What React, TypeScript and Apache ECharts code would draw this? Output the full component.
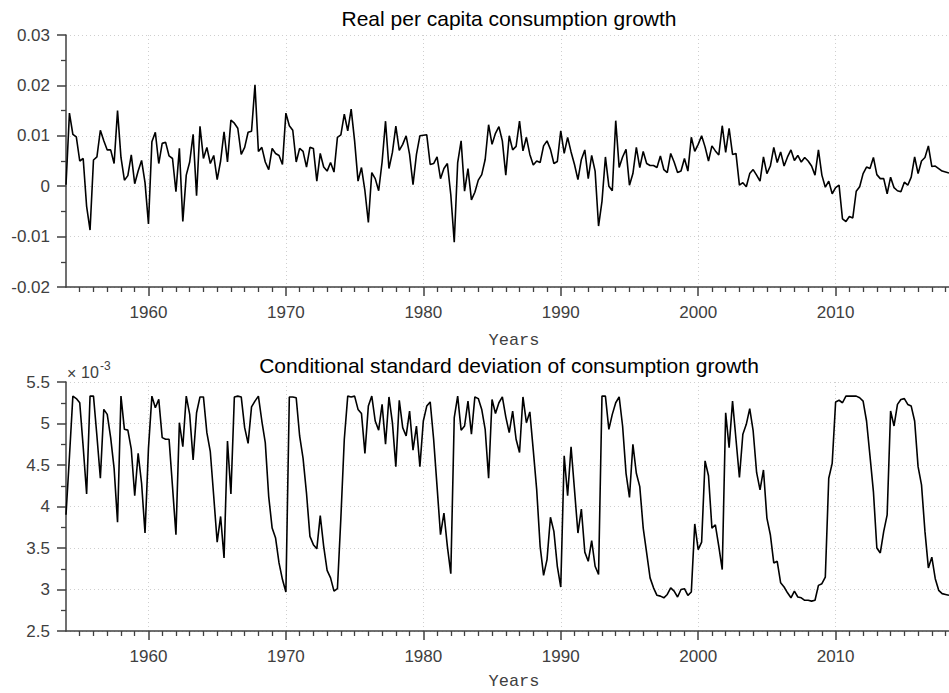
import React, { useEffect, useRef } from "react";
import * as echarts from "echarts";

// Quarterly observations starting 1954 Q1
const startYear = 1954;
const xMin = 1954;
const xMax = 2018.25;
const decadeTicks = [1960, 1970, 1980, 1990, 2000, 2010];

// Real per capita consumption growth
const growth = [
  0.0003, 0.0145, 0.0103, 0.0098, 0.0050, 0.0055, -0.0040, -0.0087, 0.0052, 0.0058,
  0.0111, 0.0090, 0.0072, 0.0072, 0.0045, 0.0150, 0.0057, 0.0012, 0.0021, 0.0062,
  0.0005, 0.0030, 0.0051, 0.0007, -0.0075, 0.0088, 0.0107, 0.0045, 0.0085, 0.0087,
  0.0060, 0.0055, -0.0011, 0.0075, -0.0070, 0.0022, 0.0048, 0.0103, -0.0019, 0.0119,
  0.0055, 0.0077, 0.0045, 0.0061, 0.0013, 0.0050, 0.0108, 0.0048, 0.0131, 0.0125,
  0.0115, 0.0063, 0.0077, 0.0107, 0.0109, 0.0201, 0.0069, 0.0077, 0.0048, 0.0033,
  0.0075, 0.0065, 0.0061, 0.0043, 0.0145, 0.0120, 0.0111, 0.0048, 0.0075, 0.0069,
  0.0038, 0.0077, 0.0075, 0.0010, 0.0065, 0.0038, 0.0030, 0.0047, 0.0028, 0.0097,
  0.0102, 0.0143, 0.0110, 0.0153, 0.0090, 0.0010, 0.0037, -0.0009, -0.0072, 0.0027,
  0.0015, -0.0009, 0.0048, 0.0129, 0.0035, 0.0067, 0.0119, 0.0071, 0.0083, 0.0100,
  0.0063, 0.0003, 0.0063, 0.0100, 0.0101, 0.0102, 0.0043, 0.0045, 0.0058, 0.0015,
  0.0035, 0.0045, -0.0017, -0.0111, 0.0047, 0.0090, -0.0010, 0.0035, -0.0027, -0.0012,
  0.0012, 0.0023, 0.0053, 0.0122, 0.0083, 0.0105, 0.0118, 0.0090, 0.0022, 0.0100,
  0.0072, 0.0079, 0.0129, 0.0070, 0.0097, 0.0063, 0.0042, 0.0050, 0.0047, 0.0080,
  0.0090, 0.0073, 0.0045, 0.0049, 0.0110, 0.0065, 0.0097, 0.0068, 0.0043, 0.0013,
  0.0053, 0.0072, 0.0015, 0.0061, 0.0030, -0.0079, -0.0030, 0.0058, 0.0000, -0.0009,
  0.0130, 0.0037, 0.0058, 0.0073, 0.0002, 0.0025, 0.0077, 0.0037, 0.0069, 0.0045,
  0.0041, 0.0041, 0.0037, 0.0060, 0.0033, 0.0027, 0.0065, 0.0048, 0.0027, 0.0030,
  0.0055, 0.0030, 0.0097, 0.0069, 0.0083, 0.0100, 0.0078, 0.0050, 0.0080, 0.0070,
  0.0062, 0.0120, 0.0067, 0.0115, 0.0063, 0.0065, 0.0002, 0.0007, -0.0001, 0.0025,
  0.0033, 0.0022, 0.0010, 0.0058, 0.0025, 0.0040, 0.0077, 0.0047, 0.0068, 0.0040,
  0.0058, 0.0072, 0.0051, 0.0061, 0.0048, 0.0057, 0.0050, 0.0040, 0.0022, 0.0072,
  0.0022, -0.0002, 0.0010, -0.0015, -0.0003, 0.0002, -0.0065, -0.0070, -0.0060, -0.0063,
  -0.0010, -0.0001, 0.0025, 0.0038, 0.0035, 0.0057, 0.0023, 0.0015, 0.0015, -0.0015,
  0.0018, -0.0003, -0.0009, -0.0011, 0.0008, 0.0002, 0.0018, 0.0058, 0.0025, 0.0050,
  0.0057, 0.0080, 0.0039, 0.0040, 0.0035, 0.0030, 0.0028, 0.0026,
];

// Conditional standard deviation of consumption growth (in units of 10^-3)
const condSd = [
  3.90, 4.60, 5.33, 5.30, 5.25, 4.72, 4.15, 5.33, 5.33, 4.85,
  4.34, 5.17, 5.11, 4.83, 4.46, 3.81, 5.33, 4.93, 4.92, 4.69,
  4.13, 4.64, 4.28, 3.68, 4.70, 5.33, 5.19, 5.29, 4.83, 4.81,
  4.81, 4.24, 3.66, 5.01, 4.72, 5.33, 5.11, 4.56, 5.13, 5.32,
  5.32, 4.89, 4.66, 4.12, 3.57, 3.88, 3.38, 4.79, 4.15, 5.32,
  5.33, 5.32, 4.95, 4.76, 5.20, 5.27, 5.33, 5.03, 4.77, 4.12,
  3.74, 3.62, 3.32, 3.12, 2.97, 5.32, 5.32, 5.31, 4.85, 4.58,
  4.16, 3.64, 3.54, 3.49, 3.89, 3.52, 3.23, 3.14, 2.98, 3.01,
  3.86, 4.81, 5.33, 5.32, 5.33, 5.17, 5.12, 4.64, 5.21, 5.33,
  5.03, 4.92, 5.23, 4.75, 5.32, 5.01, 4.48, 5.28, 4.95, 4.85,
  5.15, 4.68, 4.97, 4.48, 5.03, 5.21, 5.26, 4.81, 4.24, 3.66,
  3.92, 3.52, 3.19, 5.07, 5.33, 4.92, 4.97, 5.27, 4.87, 5.32,
  5.30, 5.17, 4.93, 4.34, 5.29, 5.12, 5.25, 5.32, 5.08, 4.89,
  5.15, 4.81, 4.65, 5.32, 5.01, 5.14, 4.68, 4.20, 3.52, 3.17,
  3.36, 3.87, 3.70, 3.28, 3.03, 4.61, 4.13, 4.72, 4.20, 3.68,
  3.97, 3.45, 3.34, 3.59, 3.28, 3.18, 5.33, 5.33, 4.93, 5.11,
  5.25, 5.32, 4.97, 4.40, 4.11, 4.75, 4.40, 4.24, 3.74, 3.44,
  3.14, 3.02, 2.93, 2.92, 2.90, 2.94, 3.02, 2.98, 2.91, 3.00,
  3.01, 2.93, 2.97, 3.79, 3.48, 3.57, 4.55, 4.37, 3.74, 3.78,
  3.52, 3.24, 5.13, 4.71, 5.27, 4.81, 4.35, 4.87, 4.99, 5.18,
  4.91, 4.41, 4.20, 4.44, 3.86, 3.66, 3.32, 3.34, 3.08, 3.03,
  2.96, 2.90, 2.98, 2.91, 2.90, 2.87, 2.87, 2.86, 2.87, 3.05,
  3.07, 3.15, 4.34, 4.52, 5.26, 5.28, 5.25, 5.33, 5.33, 5.33,
  5.33, 5.31, 5.27, 5.03, 4.61, 4.18, 3.50, 3.44, 3.70, 3.90,
  5.15, 4.97, 5.23, 5.29, 5.30, 5.23, 5.21, 5.03, 4.48, 4.26,
  3.70, 3.26, 3.39, 3.13, 2.99, 2.95, 2.94, 2.93,
];

const titleTop = "Real per capita consumption growth";
const titleBottom = "Conditional standard deviation of consumption growth";
const xLabel = "Years";

const sans = '"Liberation Sans", Arial, Helvetica, sans-serif';
const mono = '"Liberation Mono", "Courier New", monospace';
const axisColor = "#404040";
const gridColor = "#cfcfcf";

function makeX(gridIndex: number) {
  return {
    type: "value",
    gridIndex,
    min: xMin,
    max: xMax,
    minInterval: 10,
    maxInterval: 10,
    axisLine: { show: true, onZero: false, lineStyle: { color: axisColor, width: 1.5 } },
    axisTick: { show: true, length: 9, customValues: decadeTicks, lineStyle: { color: axisColor, width: 1.5 } },
    minorTick: { show: true, splitNumber: 10, length: 5, lineStyle: { color: axisColor, width: 1.3 } },
    axisLabel: {
      show: true,
      customValues: decadeTicks,
      margin: 17,
      color: axisColor,
      fontSize: 17,
      fontFamily: sans,
      formatter: (v: number) => String(Math.round(v)),
    },
    splitLine: { show: true, lineStyle: { color: gridColor, type: [1, 3], width: 1 } },
  };
}

function makeY(gridIndex: number, min: number, max: number, interval: number) {
  return {
    type: "value",
    gridIndex,
    min,
    max,
    interval,
    axisLine: { show: true, onZero: false, lineStyle: { color: axisColor, width: 1.5 } },
    axisTick: { show: true, length: 9, lineStyle: { color: axisColor, width: 1.5 } },
    minorTick: { show: true, splitNumber: 2, length: 5, lineStyle: { color: axisColor, width: 1.3 } },
    axisLabel: { show: true, margin: 16, color: axisColor, fontSize: 17, fontFamily: sans },
    splitLine: { show: true, lineStyle: { color: gridColor, type: [1, 3], width: 1 } },
  };
}

export default function App() {
  const ref = useRef<HTMLDivElement>(null);

  useEffect(() => {
    if (!ref.current) return;
    const chart = echarts.init(ref.current, undefined, { renderer: "svg" });
    const years = growth.map((_, i) => startYear + i * 0.25);
    const topData = growth.map((v, i) => [years[i], v]);
    const botData = condSd.map((v, i) => [startYear + i * 0.25, v]);

    chart.setOption({
      animation: false,
      backgroundColor: "#ffffff",
      grid: [
        { left: 66, top: 35, width: 889, height: 252, containLabel: false },
        { left: 66, top: 382, width: 889, height: 249, containLabel: false },
      ],
      xAxis: [makeX(0), makeX(1)],
      yAxis: [makeY(0, -0.02, 0.03, 0.01), makeY(1, 2.5, 5.5, 0.5)],
      series: [
        {
          type: "line",
          xAxisIndex: 0,
          yAxisIndex: 0,
          data: topData,
          showSymbol: false,
          symbol: "none",
          lineStyle: { color: "#000000", width: 1.6 },
          clip: true,
        },
        {
          type: "line",
          xAxisIndex: 1,
          yAxisIndex: 1,
          data: botData,
          showSymbol: false,
          symbol: "none",
          lineStyle: { color: "#000000", width: 1.6 },
          clip: true,
        },
      ],
      graphic: [
        {
          type: "text",
          x: 509,
          y: 18,
          style: { text: titleTop, fill: "#000", font: `21px ${sans}`, textAlign: "center", textVerticalAlign: "middle" },
        },
        {
          type: "text",
          x: 509,
          y: 365,
          style: { text: titleBottom, fill: "#000", font: `21px ${sans}`, textAlign: "center", textVerticalAlign: "middle" },
        },
        {
          type: "text",
          x: 514,
          y: 340,
          style: { text: xLabel, fill: axisColor, font: `17px ${mono}`, textAlign: "center", textVerticalAlign: "middle" },
        },
        {
          type: "text",
          x: 514,
          y: 681,
          style: { text: xLabel, fill: axisColor, font: `17px ${mono}`, textAlign: "center", textVerticalAlign: "middle" },
        },
        {
          type: "text",
          x: 67,
          y: 373,
          style: { text: "×", fill: axisColor, font: `16px ${sans}`, textAlign: "left", textVerticalAlign: "middle" },
        },
        {
          type: "text",
          x: 81,
          y: 372,
          style: { text: "10", fill: axisColor, font: `16px ${sans}`, textAlign: "left", textVerticalAlign: "middle" },
        },
        {
          type: "text",
          x: 100,
          y: 366,
          style: { text: "-3", fill: axisColor, font: `12px ${sans}`, textAlign: "left", textVerticalAlign: "middle" },
        },
      ],
    });

    return () => chart.dispose();
  }, []);

  return (
    <div
      ref={ref}
      style={{ position: "absolute", left: 0, top: 0, width: 949, height: 693, background: "#fff" }}
    />
  );
}
